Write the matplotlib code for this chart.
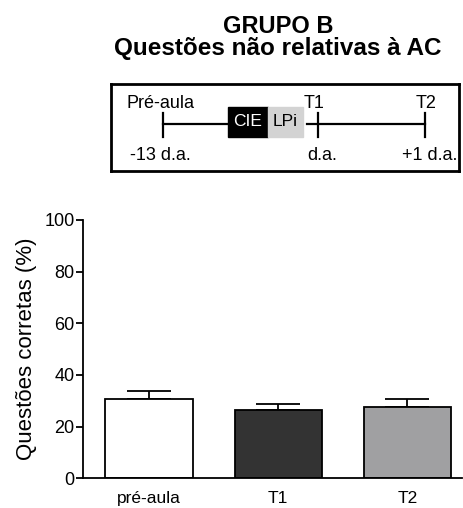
import numpy as np
import matplotlib.pyplot as plt
from matplotlib.patches import Rectangle

plt.rcParams['font.family'] = ['Liberation Sans', 'DejaVu Sans']

# =============================
# DATA
# =============================

categories = ["pré-aula", "T1", "T2"]
means = [30.8, 26.4, 27.6]
errors = [3.0, 2.5, 3.0]
bar_colors = ["white", "#333333", "#a0a0a2"]

yticks = [0, 20, 40, 60, 80, 100]

# timeline schematic (figure pixels)
tl_labels_top = ["Pré-aula", "T1", "T2"]
tl_labels_bottom = ["-13 d.a.", "d.a.", "+1 d.a."]

# =============================
# FIGURE
# =============================

W, H = 463, 508
fig = plt.figure(figsize=(W / 100, H / 100), dpi=100)

fig.text(278 / W, 1 - 33 / H, "GRUPO B", ha="center", va="baseline",
         fontsize=17, fontweight="bold")
fig.text(278 / W, 1 - 55 / H, "Questões não relativas à AC", ha="center",
         va="baseline", fontsize=17.5, fontweight="bold")

# -----------------------------
# TIMELINE BOX
# -----------------------------

bx = fig.add_axes([111 / W, 1 - 171 / H, 348 / W, 87 / H])
bx.set_xlim(111, 459)
bx.set_ylim(171, 84)
bx.set_xticks([])
bx.set_yticks([])
for s in bx.spines.values():
    s.set_linewidth(2)

line_y = 124
tick_x = [163, 318, 425]
lw = 1.6
bx.plot([tick_x[0], 228], [line_y, line_y], color="black", lw=lw)
bx.plot([307, tick_x[2]], [line_y, line_y], color="black", lw=lw)
for x in tick_x:
    bx.plot([x, x], [113, 137], color="black", lw=lw)

bx.add_patch(Rectangle((228, 107), 40, 30, color="black"))
bx.add_patch(Rectangle((268, 107), 35, 30, color="#d3d3d3"))
bx.text(248, 122, "CIE", color="white", ha="center", va="center", fontsize=12.5)
bx.text(285.5, 122, "LPi", color="black", ha="center", va="center", fontsize=12.5)

top_x = [160, 314, 426]
bot_x = [160, 322, 430]
for x, t in zip(top_x, tl_labels_top):
    bx.text(x, 103, t, ha="center", va="center", fontsize=13)
for x, t in zip(bot_x, tl_labels_bottom):
    bx.text(x, 155, t, ha="center", va="center", fontsize=13)

# -----------------------------
# BAR CHART
# -----------------------------

ax = fig.add_axes([83 / W, 1 - 478.3 / H, (461.7 - 83) / W, (478.3 - 220) / H])
x = np.arange(len(categories))

ax.bar(x, means, width=0.675, color=bar_colors, edgecolor="black",
       linewidth=1.3, zorder=2)
ax.errorbar(x, means, yerr=[np.zeros(len(errors)), errors], fmt="none",
            ecolor="black", elinewidth=1.3, capsize=16, capthick=1.3, zorder=1)

ax.set_xlim(-0.51, 2.42)
ax.set_ylim(0, 100)
ax.set_yticks(yticks)
ax.set_xticks(x)
ax.set_xticklabels(categories)
ax.tick_params(axis="x", length=0, labelsize=12.5, pad=9)
ax.tick_params(axis="y", length=5, width=1.3, labelsize=13, pad=1)
ax.set_ylabel("Questões corretas (%)", fontsize=16, labelpad=5)

ax.spines["top"].set_visible(False)
ax.spines["right"].set_visible(False)
ax.spines["left"].set_linewidth(1.3)
ax.spines["bottom"].set_linewidth(1.3)

fig.savefig("out.png", dpi=100)
